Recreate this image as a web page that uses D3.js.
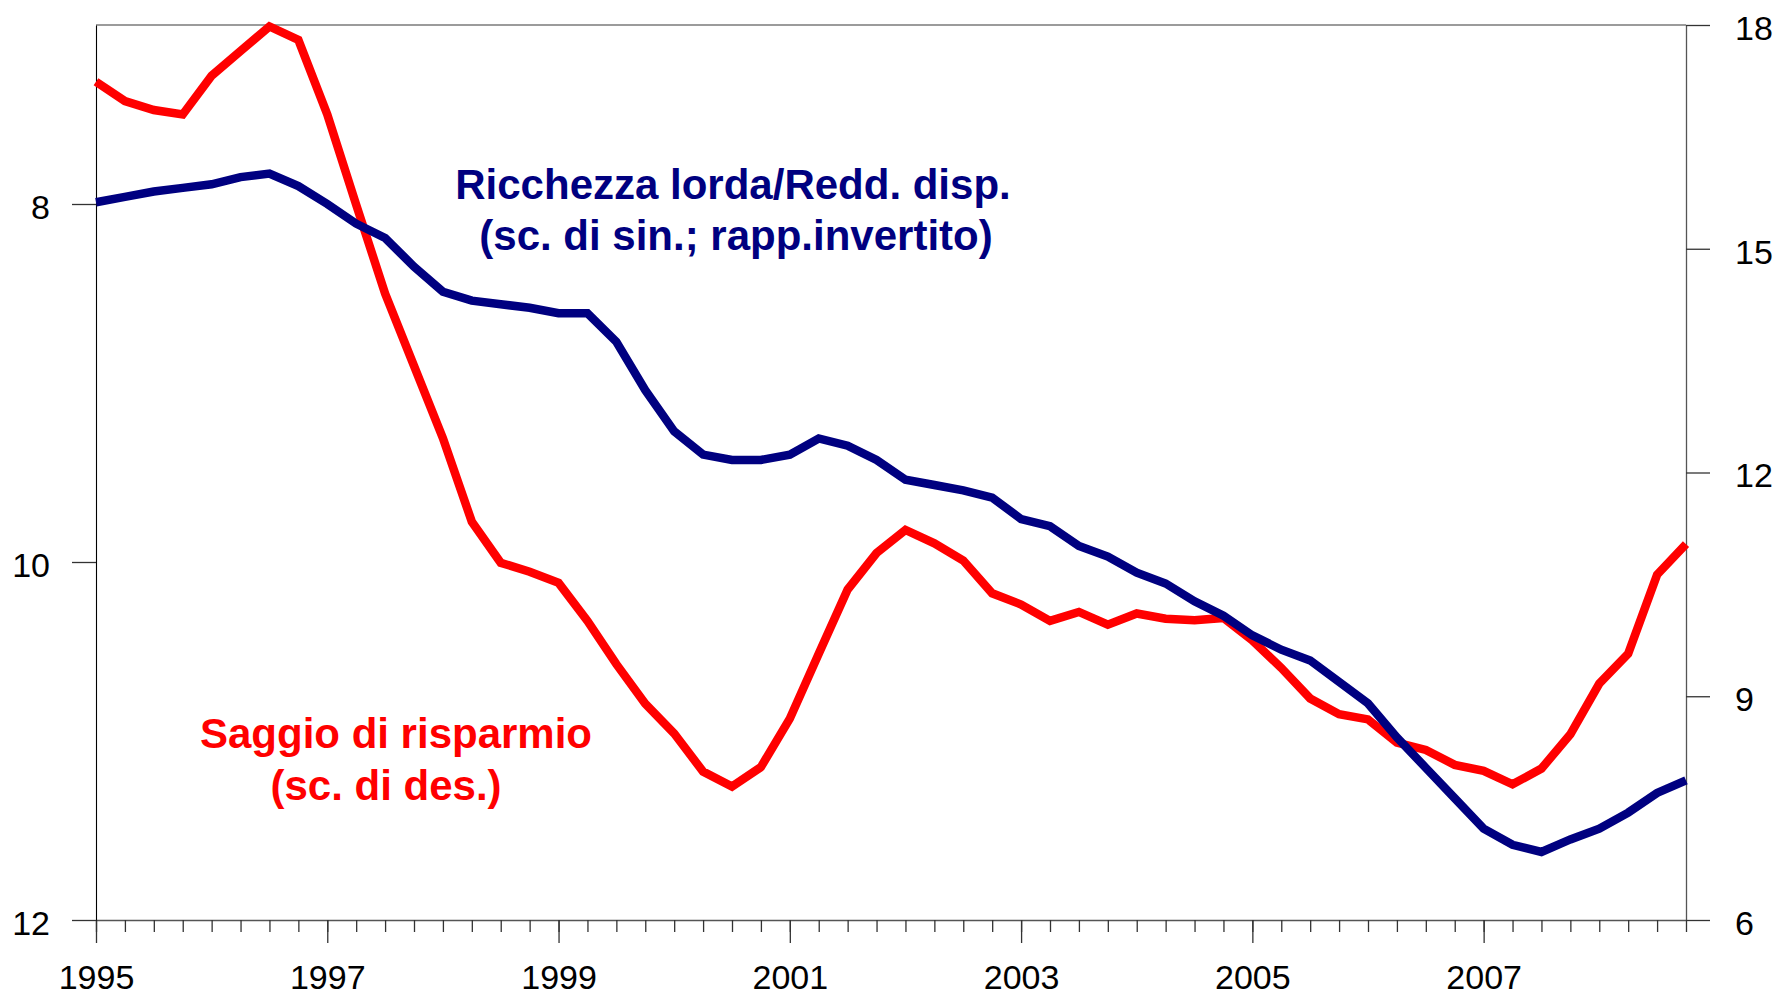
<!DOCTYPE html>
<html>
<head>
<meta charset="utf-8">
<script src="https://cdn.jsdelivr.net/npm/d3@7"></script>
<style>
  body { margin: 0; background: #fff; }
  svg { display: block; font-family: "Liberation Sans", Arial, sans-serif; }
</style>
</head>
<body>
<svg id="chart" width="1777" height="995"></svg>
<script>
// quarterly observations, 1995Q1 .. 2008Q4
const firstYear = 1995;
const nQuarters = 56;
const quarters = d3.range(nQuarters).map(i => firstYear + i / 4);

// Ricchezza lorda / reddito disponibile (left scale, inverted)
const ricchezza = [
  7.99, 7.96, 7.93, 7.91, 7.89, 7.85, 7.83, 7.90,
  8.00, 8.11, 8.19, 8.35, 8.49, 8.54, 8.56, 8.58,
  8.61, 8.61, 8.77, 9.04, 9.27, 9.40, 9.43, 9.43,
  9.40, 9.31, 9.35, 9.43, 9.54, 9.57, 9.60, 9.64,
  9.76, 9.80, 9.91, 9.97, 10.06, 10.12, 10.22, 10.30,
  10.41, 10.49, 10.55, 10.67, 10.79, 10.98, 11.15, 11.32,
  11.49, 11.58, 11.62, 11.55, 11.49, 11.40, 11.29, 11.22
];

// Saggio di risparmio (right scale)
const risparmio = [
  17.24, 16.98, 16.86, 16.80, 17.32, 17.65, 17.98, 17.80,
  16.80, 15.59, 14.40, 13.43, 12.46, 11.34, 10.79, 10.67,
  10.52, 10.01, 9.43, 8.90, 8.50, 7.99, 7.79, 8.05,
  8.70, 9.57, 10.43, 10.92, 11.23, 11.05, 10.82, 10.38,
  10.23, 10.01, 10.13, 9.96, 10.11, 10.04, 10.02, 10.05,
  9.75, 9.38, 8.97, 8.76, 8.69, 8.38, 8.28, 8.08,
  8.00, 7.82, 8.03, 8.49, 9.17, 9.57, 10.63, 11.04
];

const yearLabels = [1995, 1997, 1999, 2001, 2003, 2005, 2007];
const leftTicks = [8, 10, 12];
const rightTicks = [6, 9, 12, 15, 18];

const marge = { top: 25, bottom: 75, left: 96, right: 91 };
const width = 1777, height = 995;

const svg = d3.select("#chart");

const x = d3.scaleLinear()
  .domain([firstYear, quarters[quarters.length - 1]])
  .range([marge.left, width - marge.right]);
const yLeft = d3.scaleLinear()   // rapporto invertito
  .domain([7, 12])
  .range([marge.top, height - marge.bottom]);
const yRight = d3.scaleLinear()
  .domain([6, 18])
  .range([height - marge.bottom, marge.top]);

const axisColor = "#555";

// top frame line
svg.append("line")
  .attr("x1", marge.left).attr("x2", width - marge.right)
  .attr("y1", marge.top).attr("y2", marge.top)
  .attr("stroke", "#7a7a7a").attr("stroke-width", 1.6);

// x axis: quarterly minor ticks
const gxMinor = svg.append("g")
  .attr("transform", `translate(0,${height - marge.bottom})`)
  .call(d3.axisBottom(x).tickValues(quarters).tickSize(12).tickSizeOuter(0).tickFormat(""));
// x axis: labelled years
const gxMajor = svg.append("g")
  .attr("transform", `translate(0,${height - marge.bottom})`)
  .call(d3.axisBottom(x).tickValues(yearLabels).tickSize(23).tickSizeOuter(0)
    .tickPadding(22).tickFormat(d3.format("d")));

// left axis
const gyL = svg.append("g")
  .attr("transform", `translate(${marge.left},0)`)
  .call(d3.axisLeft(yLeft).tickValues(leftTicks).tickSize(24).tickSizeOuter(0)
    .tickPadding(22).tickFormat(d3.format("d")));
// right axis
const gyR = svg.append("g")
  .attr("transform", `translate(${width - marge.right},0)`)
  .call(d3.axisRight(yRight).tickValues(rightTicks).tickSize(24).tickSizeOuter(0)
    .tickPadding(25).tickFormat(d3.format("d")));

[gxMinor, gxMajor, gyL, gyR].forEach(g => {
  g.selectAll(".domain").attr("stroke", axisColor).attr("stroke-width", 1.3);
  g.selectAll(".tick line").attr("stroke", "#333").attr("stroke-width", 1.3);
  g.selectAll(".tick text")
    .attr("fill", "#000")
    .style("font-size", "34px")
    .style("font-family", "'Liberation Sans', Arial, sans-serif");
});
gxMajor.select(".domain").remove();
gyL.select(".domain").attr("stroke", "#000").attr("stroke-width", 1.1);
gyL.selectAll(".tick text").attr("dy", "0.42em");
gyR.selectAll(".tick text").attr("dy", "0.42em");

// series
const lineL = d3.line().x((d, i) => x(quarters[i])).y(d => yLeft(d));
const lineR = d3.line().x((d, i) => x(quarters[i])).y(d => yRight(d));

svg.append("path")
  .datum(risparmio)
  .attr("d", lineR)
  .attr("fill", "none")
  .attr("stroke", "#ff0000")
  .attr("stroke-width", 8.5)
  .attr("stroke-linejoin", "miter");

svg.append("path")
  .datum(ricchezza)
  .attr("d", lineL)
  .attr("fill", "none")
  .attr("stroke", "#000080")
  .attr("stroke-width", 8.5)
  .attr("stroke-linejoin", "miter");

// annotations
const ann = [
  { text: "Ricchezza lorda/Redd. disp.", x: 733, y: 199, color: "#000080" },
  { text: "(sc. di sin.; rapp.invertito)", x: 736, y: 250, color: "#000080" },
  { text: "Saggio di risparmio", x: 396, y: 748, color: "#ff0000" },
  { text: "(sc. di des.)", x: 386, y: 800, color: "#ff0000" }
];
svg.selectAll("text.ann")
  .data(ann)
  .enter()
  .append("text")
  .attr("class", "ann")
  .attr("x", d => d.x)
  .attr("y", d => d.y)
  .attr("text-anchor", "middle")
  .attr("fill", d => d.color)
  .style("font-size", "42px")
  .style("font-weight", "bold")
  .text(d => d.text);
</script>
</body>
</html>
